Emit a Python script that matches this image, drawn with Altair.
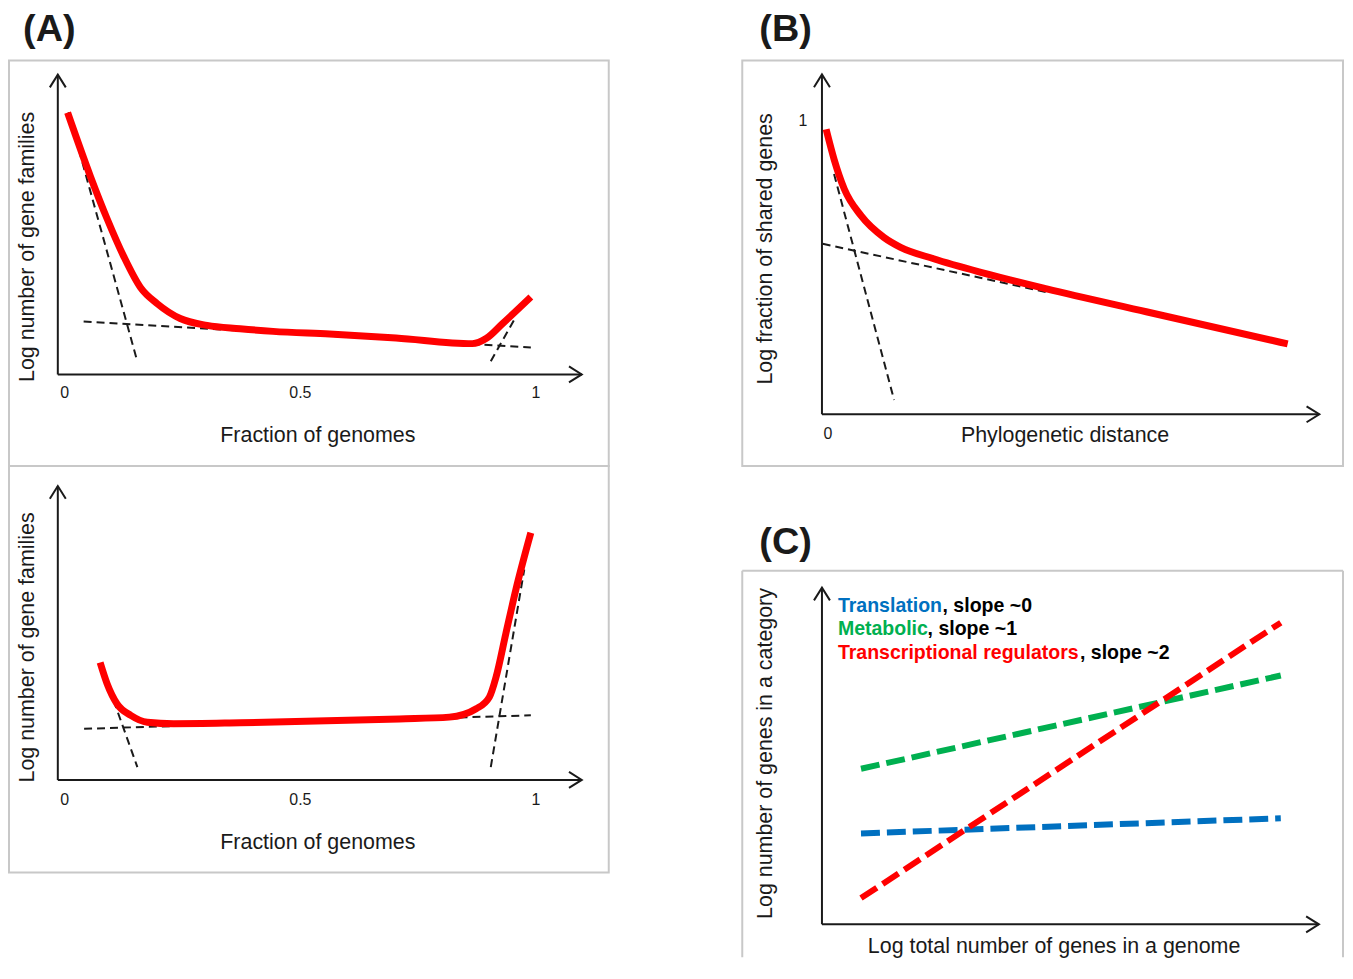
import altair as alt
import pandas as pd

FONT = "Liberation Sans, Arial, Helvetica, sans-serif"
INK = "#1a1a1a"
RED = "#ff0000"
BLUE = "#0070c0"
GREEN = "#00b050"
BOX = "#c8c8c8"

# ---------------- data (arbitrary schematic units) ----------------
# (A) upper: gene-family frequency distribution
a1_x = [0.006, 0.055, 0.090, 0.125, 0.161, 0.196, 0.245, 0.302, 0.372, 0.442, 0.562, 0.703, 0.865, 0.894, 0.929, 0.989]
a1_y = [0.876, 0.660, 0.520, 0.395, 0.290, 0.237, 0.187, 0.164, 0.153, 0.144, 0.135, 0.122, 0.103, 0.120, 0.170, 0.259]
a1_fit_x1 = [0.008, 0.040, 0.904]
a1_fit_y1 = [0.877, 0.177, 0.044]
a1_fit_x2 = [0.154, 0.989, 0.953]
a1_fit_y2 = [0.043, 0.090, 0.181]

# (A) lower
a2_x = [0.075, 0.090, 0.111, 0.140, 0.175, 0.231, 0.372, 0.710, 0.816, 0.873, 0.901, 0.915, 0.936, 0.957, 0.989]
a2_y = [0.393, 0.321, 0.254, 0.216, 0.193, 0.188, 0.191, 0.204, 0.210, 0.238, 0.277, 0.343, 0.490, 0.635, 0.827]
a2_fit_x1 = [0.076, 0.041, 0.904]
a2_fit_y1 = [0.388, 0.171, 0.043]
a2_fit_x2 = [0.154, 0.989, 0.975]
a2_fit_y2 = [0.043, 0.216, 0.704]

a_ticks = [0, 0.5, 1]
a_tick_labels = ["0", "0.5", "1"]

# (B) shared genes vs phylogenetic distance
b_x = [0.009, 0.026, 0.048, 0.084, 0.133, 0.169, 0.240, 0.348, 0.483, 0.697, 1.001]
b_y = [0.973, 0.871, 0.769, 0.678, 0.604, 0.570, 0.531, 0.482, 0.428, 0.350, 0.240]
b_fit_x1 = [0.026, 0.0015]
b_fit_y1 = [0.820, 0.582]
b_fit_x2 = [0.155, 0.483]
b_fit_y2 = [0.049, 0.417]

# (C) scaling of functional categories
c_groups = ["Translation", "Metabolic", "Transcriptional regulators"]
c_slopes = [", slope ~0", ", slope ~1", ", slope ~2"]
c_colors = [BLUE, GREEN, RED]
c_x_start = [0.085, 0.085, 0.085]
c_x_end = [0.999, 0.999, 0.999]
c_y_start = [0.270, 0.462, 0.078]
c_y_end = [0.315, 0.739, 0.896]

# ---------------- layout ----------------
# frame: view left/top on page, size, and where data (0,0) sits + pixels per unit
F_A1 = dict(left=8, top=61, w=602, h=407, x0=64, xu=473, y0=376, yu=300)
F_A2 = dict(left=8, top=468, w=602, h=408, x0=64, xu=473, y0=783, yu=300)
F_B = dict(left=741, top=61, w=603, h=407, x0=821, xu=467, y0=416, yu=294)
F_C = dict(left=741, top=573, w=603, h=388, x0=821, xu=461, y0=928, yu=338)

UP = "M-1,1.6L0,0L1,1.6"
RIGHT = "M-1.6,-1L0,0L-1.6,1"


def scales(f):
    xs = alt.Scale(domain=[(f["left"] - f["x0"]) / f["xu"], (f["left"] + f["w"] - f["x0"]) / f["xu"]],
                   nice=False, zero=False)
    ys = alt.Scale(domain=[(f["y0"] - f["top"] - f["h"]) / f["yu"], (f["y0"] - f["top"]) / f["yu"]],
                   nice=False, zero=False)
    return xs, ys


def XY(xs, ys):
    return dict(x=alt.X("x:Q", scale=xs, axis=None), y=alt.Y("y:Q", scale=ys, axis=None))


def axes(xs, ys, ox, oy, xtip, ytip):
    df = pd.DataFrame({"x": [ox, ox], "y": [oy, oy], "x2": [ox, xtip], "y2": [ytip, oy]})
    lines = alt.Chart(df).mark_rule(color=INK, strokeWidth=2).encode(
        **XY(xs, ys), x2="x2:Q", y2="y2:Q")
    up = alt.Chart(pd.DataFrame({"x": [ox], "y": [ytip]})).mark_point(
        shape=UP, size=256, filled=False, color=INK, strokeWidth=2, opacity=1).encode(**XY(xs, ys))
    right = alt.Chart(pd.DataFrame({"x": [xtip], "y": [oy]})).mark_point(
        shape=RIGHT, size=256, filled=False, color=INK, strokeWidth=2, opacity=1).encode(**XY(xs, ys))
    return [lines, up, right]


def fits(xs, ys, x1, y1, x2, y2):
    df = pd.DataFrame({"x": x1, "y": y1, "x2": x2, "y2": y2})
    return alt.Chart(df).mark_rule(color=INK, strokeWidth=2, strokeDash=[8, 5]).encode(
        **XY(xs, ys), x2="x2:Q", y2="y2:Q")


def curve(xs, ys, x, y):
    return alt.Chart(pd.DataFrame({"x": x, "y": y})).mark_line(
        color=RED, strokeWidth=7, interpolate="monotone").encode(**XY(xs, ys))


def txt(text, x, y, size, bold=False, angle=0, color=INK, align="center", baseline="middle"):
    kw = dict(fontSize=size, font=FONT, color=color, align=align, baseline=baseline)
    if bold:
        kw["fontWeight"] = "bold"
    if angle:
        kw["angle"] = angle
    return alt.Chart(pd.DataFrame({"t": [text]})).mark_text(**kw).encode(
        text="t:N", x=alt.value(x), y=alt.value(y))


def xticks(xs, ypx):
    df = pd.DataFrame({"x": a_ticks, "lab": a_tick_labels})
    return alt.Chart(df).mark_text(fontSize=16, font=FONT, color=INK, baseline="middle").encode(
        x=alt.X("x:Q", scale=xs, axis=None), y=alt.value(ypx), text="lab:N")


# ---- (A) upper ----
xs, ys = scales(F_A1)
pA1 = alt.layer(
    *axes(xs, ys, -0.0148, 0, 1.097, 1.003),
    fits(xs, ys, a1_fit_x1, a1_fit_y1, a1_fit_x2, a1_fit_y2),
    curve(xs, ys, a1_x, a1_y),
    xticks(xs, 334),
    txt("Fraction of genomes", 310, 377, 21.5),
    txt("Log number of gene families", 19, 187, 21.5, angle=270),
    txt("(A)", 40.5, -31, 38, bold=True),
).properties(width=F_A1["w"], height=F_A1["h"])

# ---- (A) lower ----
xs, ys = scales(F_A2)
pA2 = alt.layer(
    *axes(xs, ys, -0.0148, 0, 1.097, 0.983),
    fits(xs, ys, a2_fit_x1, a2_fit_y1, a2_fit_x2, a2_fit_y2),
    curve(xs, ys, a2_x, a2_y),
    xticks(xs, 335),
    txt("Fraction of genomes", 310, 378, 21.5),
    txt("Log number of gene families", 19, 182, 21.5, angle=270),
).properties(width=F_A2["w"], height=F_A2["h"])

# ---- (B) ----
xs, ys = scales(F_B)
b_lab = alt.Chart(pd.DataFrame({"y": [1], "lab": ["1"]})).mark_text(
    fontSize=16, font=FONT, color=INK, baseline="middle").encode(
    x=alt.value(61), y=alt.Y("y:Q", scale=ys, axis=None), text="lab:N")
b_lab0 = alt.Chart(pd.DataFrame({"x": [0], "lab": ["0"]})).mark_text(
    fontSize=16, font=FONT, color=INK, baseline="middle", dx=6).encode(
    x=alt.X("x:Q", scale=xs, axis=None), y=alt.value(375), text="lab:N")
pB = alt.layer(
    *axes(xs, ys, 0, 0, 1.069, 1.160),
    fits(xs, ys, b_fit_x1, b_fit_y1, b_fit_x2, b_fit_y2),
    curve(xs, ys, b_x, b_y),
    b_lab, b_lab0,
    txt("Phylogenetic distance", 324, 377, 21.5),
    txt("Log fraction of shared genes", 24, 189, 21.5, angle=270),
    txt("(B)", 43.5, -31, 38, bold=True),
).properties(width=F_B["w"], height=F_B["h"])

# ---- (C) ----
xs, ys = scales(F_C)
dfc = pd.DataFrame({"g": c_groups, "x": c_x_start, "y": c_y_start, "x2": c_x_end, "y2": c_y_end})
c_lines = alt.Chart(dfc).mark_rule(strokeWidth=6, strokeDash=[19, 7]).encode(
    **XY(xs, ys), x2="x2:Q", y2="y2:Q",
    color=alt.Color("g:N", scale=alt.Scale(domain=c_groups, range=c_colors), legend=None))
W, H = F_C["w"], F_C["h"]
one = pd.DataFrame({"k": [0]})
c_box = [
    alt.Chart(one).mark_rule(color=BOX, strokeWidth=2).encode(x=alt.value(0), y=alt.value(0), y2=alt.value(H)),
    alt.Chart(one).mark_rule(color=BOX, strokeWidth=2).encode(x=alt.value(0), x2=alt.value(W), y=alt.value(0)),
    alt.Chart(one).mark_rule(color=BOX, strokeWidth=2).encode(x=alt.value(W), y=alt.value(0), y2=alt.value(H)),
]
leg_y = [35, 59, 83]
leg_suffix_x = [201, 186, 339]
legend = []
for g, s, col, ly, sx in zip(c_groups, c_slopes, c_colors, leg_y, leg_suffix_x):
    legend.append(txt(g, 96, ly, 19.6, bold=True, color=col, align="left"))
    legend.append(txt(s, sx, ly, 19.6, bold=True, color="#000000", align="left"))
pC = alt.layer(
    *c_box,
    *axes(xs, ys, 0, 0, 1.082, 1.0),
    c_lines,
    *legend,
    txt("Log total number of genes in a genome", 313, 378, 21.5),
    txt("Log number of genes in a category", 24, 183.5, 21.5, angle=270),
    txt("(C)", 43.5, -28, 38, bold=True),
).properties(width=W, height=H, view=alt.ViewBackground(stroke="transparent"))

left = alt.vconcat(pA1, pA2, spacing=0, bounds="flush")
right = alt.vconcat(pB, pC, spacing=105, bounds="flush")
chart = alt.hconcat(left, right, spacing=131).properties(
    padding={"left": 0, "top": 0, "right": 0, "bottom": 0},
    background="white",
).configure_view(stroke=BOX, strokeWidth=2)

chart.save("out.html", embed_options={"renderer": "svg", "actions": False})
